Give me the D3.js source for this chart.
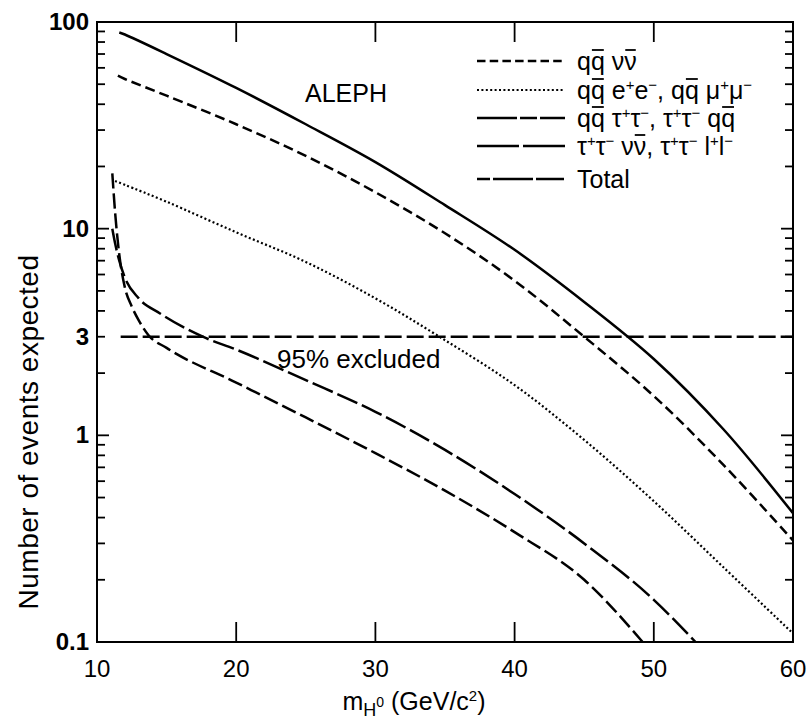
<!DOCTYPE html>
<html>
<head>
<meta charset="utf-8">
<script src="https://cdn.jsdelivr.net/npm/d3@7"></script>
<style>
    body { margin: 0; background: #fff; }
    text { font-family: 'Liberation Sans', Arial, sans-serif; fill: #000; }
</style>
</head>
<body>
<script>
// values, [mass GeV/c2, events expected]
const massTicks = [10, 20, 30, 40, 50, 60]
const eventTicks = [0.1, 1, 3, 10, 100]
const eventTickLabels = ['0.1', '1', '3', '10', '100']

const totalCurve = [
    [11.6, 89], [12, 87], [15, 70], [20, 48], [25, 32], [30, 21], [35, 13],
    [40, 7.9], [45, 4.42], [50, 2.34], [55, 1.07], [60, 0.42]
]
const qqNuNuCurve = [
    [11.5, 55], [12, 53], [15, 44], [20, 32], [25, 22.5], [30, 15], [35, 9.5],
    [40, 5.6], [45, 3.0], [50, 1.55], [55, 0.72], [60, 0.31]
]
const qqLLCurve = [
    [11.3, 17], [12, 16.3], [15, 13.5], [20, 9.6], [25, 6.9], [30, 4.6],
    [34.6, 3.0], [40, 1.75], [45, 0.95], [50, 0.48], [55, 0.23], [60, 0.11]
]
const tauNuCurve = [
    [11.1, 18.5], [11.3, 12], [11.6, 7.5], [12, 5.2], [12.5, 4.2], [13, 3.6],
    [13.7, 3.05], [15, 2.65], [20, 1.8], [25, 1.22], [30, 0.82], [35, 0.54],
    [40, 0.34], [45, 0.2], [49.2, 0.1]
]
const tauQQCurve = [
    [11.1, 10], [11.3, 8.5], [11.6, 7], [12, 5.8], [13, 4.6], [14.5, 3.9],
    [17.6, 3.0], [20, 2.6], [25, 1.85], [30, 1.3], [35, 0.85], [40, 0.52],
    [45, 0.3], [50, 0.16], [53, 0.1]
]
const limitLine = [[11.7, 3], [60, 3]]

// legend: {x} = barred char, ^x = superscript
const legendLabels = [
    'q{q} ν{ν}',
    'q{q} e^+e^-, q{q} μ^+μ^-',
    'q{q} τ^+τ^-, τ^+τ^- q{q}',
    'τ^+τ^- ν{ν}, τ^+τ^- l^+l^-',
    'Total'
]
const legendDashes = ['8.5,4.2', '2,2.4', '40,3,17,3,25', '42,4,43', '13,3,40,3,28']

const width = 809
const height = 724
const margin = {left: 97, right: 16, top: 22, bottom: 82}

let svg = d3.select('body').append('svg')
    .attr('width', width)
    .attr('height', height)

// scales
let massScale = d3.scaleLinear()
    .domain([10, 60])
    .range([margin.left, width - margin.right])

let eventScale = d3.scaleLog()
    .domain([0.1, 100])
    .range([height - margin.bottom, margin.top])

const x0 = massScale.range()[0], x1 = massScale.range()[1]
const y0 = eventScale.range()[0], y1 = eventScale.range()[1]

// frame
svg.append('rect')
    .attr('x', x0).attr('y', y1)
    .attr('width', x1 - x0).attr('height', y0 - y1)
    .attr('fill', 'none')
    .attr('stroke', '#000')
    .attr('stroke-width', 2)

// y ticks, inside on both sides
let minorEvents = []
for (let decade of [0.1, 1, 10]) {
    for (let k = 2; k <= 9; k++) minorEvents.push(decade * k)
}
for (let side of ['left', 'right']) {
    const xa = side == 'left' ? x0 : x1
    const dir = side == 'left' ? 1 : -1
    svg.append('g').selectAll('line')
        .data(minorEvents)
        .enter()
        .append('line')
        .attr('x1', xa).attr('x2', xa + dir * 8)
        .attr('y1', d => eventScale(d)).attr('y2', d => eventScale(d))
        .attr('stroke', '#000').attr('stroke-width', 1.8)
    svg.append('g').selectAll('line')
        .data([1, 10])
        .enter()
        .append('line')
        .attr('x1', xa).attr('x2', xa + dir * 12)
        .attr('y1', d => eventScale(d)).attr('y2', d => eventScale(d))
        .attr('stroke', '#000').attr('stroke-width', 1.8)
}

// x ticks, inside top and bottom
for (let side of ['bottom', 'top']) {
    const ya = side == 'bottom' ? y0 : y1
    const dir = side == 'bottom' ? -1 : 1
    svg.append('g').selectAll('line')
        .data(massTicks.slice(1, -1))
        .enter()
        .append('line')
        .attr('x1', d => massScale(d)).attr('x2', d => massScale(d))
        .attr('y1', ya).attr('y2', ya + dir * 20)
        .attr('stroke', '#000').attr('stroke-width', 1.8)
}

// tick labels
svg.append('g').selectAll('text')
    .data(massTicks)
    .enter()
    .append('text')
    .attr('x', d => massScale(d))
    .attr('y', y0 + 35)
    .attr('text-anchor', 'middle')
    .attr('font-size', 24)
    .text(d => d)

svg.append('g').selectAll('text')
    .data(eventTicks)
    .enter()
    .append('text')
    .attr('x', x0 - 8)
    .attr('y', d => eventScale(d) + 8)
    .attr('text-anchor', 'end')
    .attr('font-size', 24)
    .attr('font-weight', 'bold')
    .text((d, i) => eventTickLabels[i])

// axis titles
let xTitle = svg.append('text')
    .attr('x', 414)
    .attr('y', 710)
    .attr('text-anchor', 'middle')
    .attr('font-size', 25)
xTitle.append('tspan').text('m')
xTitle.append('tspan').attr('dy', 6).attr('font-size', 18).text('H')
xTitle.append('tspan').attr('dy', -9).attr('font-size', 14).text('0')
xTitle.append('tspan').attr('dy', 3).text(' (GeV/c')
xTitle.append('tspan').attr('dy', -9).attr('font-size', 15).text('2')
xTitle.append('tspan').attr('dy', 9).text(')')

svg.append('text')
    .attr('transform', `translate(38, 432) rotate(-90)`)
    .attr('text-anchor', 'middle')
    .attr('font-size', 28)
    .attr('letter-spacing', 0.5)
    .text('Number of events expected')

// curves
let smoothLine = d3.line()
    .x(d => massScale(d[0]))
    .y(d => eventScale(d[1]))
    .curve(d3.curveCatmullRom)

// monotone keeps the steep threshold ends from overshooting
let steepLine = d3.line()
    .x(d => massScale(d[0]))
    .y(d => eventScale(d[1]))
    .curve(d3.curveMonotoneX)

const curves = [
    {data: totalCurve, dash: null, w: 2.5, line: smoothLine},
    {data: qqNuNuCurve, dash: '10,5', w: 2.5, line: smoothLine},
    {data: qqLLCurve, dash: '2,2.4', w: 2.2, line: smoothLine},
    {data: tauNuCurve, dash: '15,5', w: 2.5, line: steepLine},
    {data: tauQQCurve, dash: '22,5', w: 2.5, line: steepLine},
    {data: limitLine, dash: '17,5', w: 2.4, line: steepLine}
]
for (let c of curves) {
    svg.append('path')
        .datum(c.data)
        .attr('d', c.line)
        .attr('fill', 'none')
        .attr('stroke', '#000')
        .attr('stroke-width', c.w)
        .attr('stroke-dasharray', c.dash)
}

// annotations
svg.append('text')
    .attr('x', 305).attr('y', 102)
    .attr('font-size', 25)
    .text('ALEPH')

svg.append('text')
    .attr('x', 277).attr('y', 368)
    .attr('font-size', 26)
    .text('95% excluded')

// legend
const legendRows = [70, 99, 127, 155, 188]
const legendFont = 25
legendLabels.forEach((label, i) => {
    const yb = legendRows[i]
    svg.append('line')
        .attr('x1', 477).attr('x2', 565)
        .attr('y1', yb - 9).attr('y2', yb - 9)
        .attr('stroke', '#000')
        .attr('stroke-width', i == 1 ? 1.8 : 2.4)
        .attr('stroke-dasharray', legendDashes[i])

    let text = svg.append('text')
        .attr('x', 577).attr('y', yb)
        .attr('font-size', legendFont)
    let bars = []
    let shifted = false
    let normal = ''
    const flush = () => {
        if (normal) {
            text.append('tspan').attr('dy', shifted ? 9 : 0).text(normal)
            shifted = false
            normal = ''
        }
    }
    for (let k = 0; k < label.length; k++) {
        const ch = label[k]
        if (ch == '^') {
            const sup = label[++k]
            normal && flush()
            text.append('tspan')
                .attr('dy', shifted ? 0 : -9)
                .attr('font-size', 15)
                .text(sup == '-' ? '\u2212' : sup)
            shifted = true
        } else if (ch == '{') {
            const barred = label[++k]
            k++
            flush()
            let t = text.append('tspan').attr('dy', shifted ? 9 : 0).text(barred)
            shifted = false
            bars.push(t)
        } else {
            normal += ch
        }
    }
    flush()
    for (let t of bars) {
        const box = t.node().getExtentOfChar(0)
        svg.append('line')
            .attr('x1', box.x + 1).attr('x2', box.x + box.width - 1)
            .attr('y1', yb - 20).attr('y2', yb - 20)
            .attr('stroke', '#000').attr('stroke-width', 1.8)
    }
})
</script>
</body>
</html>
